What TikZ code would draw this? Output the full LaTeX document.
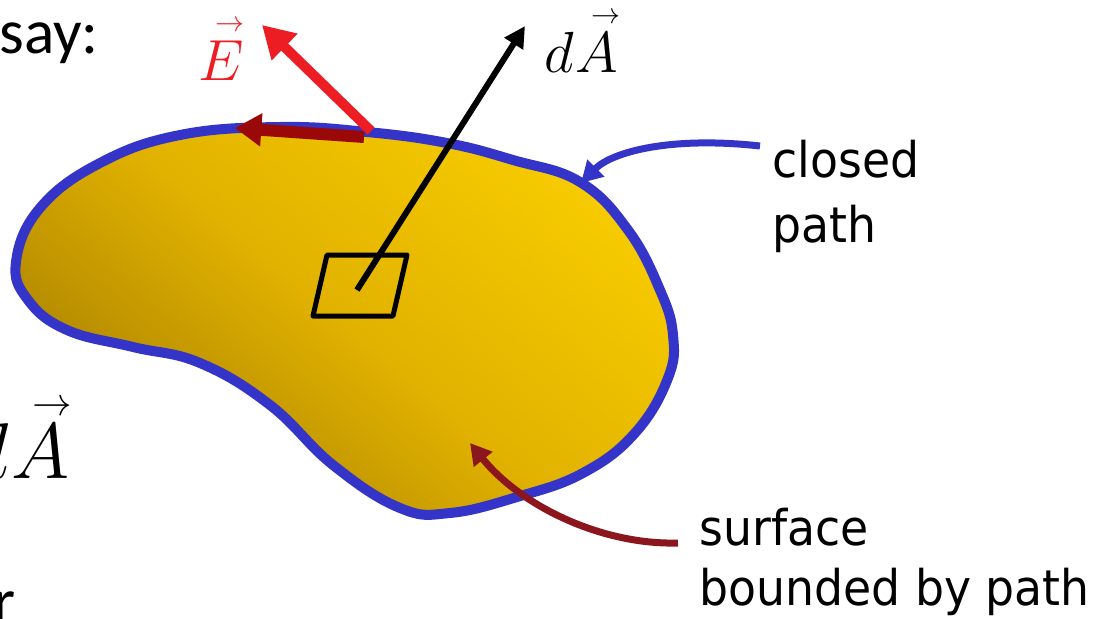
\RequirePackage{fix-cm}
\documentclass[tikz,border=0pt]{standalone}
\usepackage{amsmath}
\usepackage{fontspec}
\newfontfamily\lblfont[FakeStretch=0.93]{DejaVu Sans}
\newfontfamily\slidefont{Carlito}
\usetikzlibrary{arrows.meta}
\newcommand\arrvec[1]{\overset{\scriptscriptstyle\kern0.3em\rightarrow}{#1}}
\definecolor{pathblue}{RGB}{52,52,200}
\definecolor{fieldred}{RGB}{236,30,36}
\definecolor{tanred}{RGB}{155,8,8}
\definecolor{surfred}{RGB}{140,22,30}
\definecolor{yhi}{RGB}{247,203,0}
\definecolor{ymid}{RGB}{225,178,0}
\definecolor{ylo}{RGB}{168,128,0}
\begin{document}
\begin{tikzpicture}[x=0.02cm,y=-0.02cm,
  lbl/.style={font=\lblfont\fontsize{28}{34}\selectfont, inner sep=0pt, anchor=base west},
  slide/.style={font=\slidefont\fontsize{36}{43}\selectfont, inner sep=0pt},
  mathlbl/.style={font=\fontsize{33}{40}\selectfont, inner sep=0pt, anchor=base west},
  blob/.style={draw=pathblue, line width=0.2cm, top color=yhi, bottom color=ylo, middle color=ymid, shading angle=-40},
  vecarrow/.style={line width=0.12cm, -{Triangle[length=12pt,width=12pt]}},
  efield/.style={fieldred, line width=0.2cm, -{Triangle[length=18pt,width=20pt]}},
  etang/.style={tanred, line width=0.24cm, -{Triangle[length=15pt,width=18pt]}},
  callblue/.style={pathblue, line width=0.14cm, -{Triangle[length=12pt,width=13pt]}},
  callred/.style={surfred, line width=0.14cm, -{Triangle[length=12pt,width=13pt]}},
  patch/.style={line width=0.1cm, line join=round}
]
\useasboundingbox (0,0) rectangle (1117,619);
\clip (0,0) rectangle (1117,619);

% surface bounded by the closed path
\draw[blob] plot[smooth cycle, tension=0.7] coordinates {
  (16,262) (40,208) (100,163) (180,135) (280,127) (367,132) (447,143)
  (513,160) (580,182) (628,230) (660,290) (673,335) (668,378) (635,433)
  (583,473) (517,497) (450,513) (400,508) (333,465) (270,405) (200,363)
  (133,347) (67,330) (28,300)};

% area element
\draw[patch] (327,255) -- (407,255) -- (393,316) -- (313,316) -- cycle;

% coordinates of connector ends
\coordinate (dAtail) at (357,290);
\coordinate (dAtip) at (525,26);
\coordinate (Ptail) at (364,137);
\coordinate (Ptip) at (235,128);
\coordinate (Etail) at (371,131);
\coordinate (Etip) at (262,25);
\coordinate (Ctail) at (760,146);
\coordinate (Ctip) at (581,183);
\coordinate (Stail) at (678,543);
\coordinate (Stip) at (470,443);

% vectors
\draw[vecarrow] (dAtail) -- (dAtip);
\draw[etang] (Ptail) -- (Ptip);
\draw[efield] (Etail) -- (Etip);

% callouts
\draw[callblue] (Ctail) .. controls (670,136) and (612,152) .. (Ctip);
\draw[callred] (Stail) .. controls (600,545) and (520,505) .. (Stip);

% labels
\node[mathlbl, text=fieldred] (E) at (198,80) {$\arrvec{E}$};
\node[mathlbl] (dA) at (544,72) {$d\arrvec{A}$};
\node[lbl] (closed1) at (772,177) {closed};
\node[lbl] (closed2) at (772,242) {path};
\node[lbl] (surf1) at (699,545) {surface};
\node[lbl] (surf2) at (699,605) {bounded by path};

% cut-off slide text
\node[slide, anchor=base west] (say) at (-1,53) {say:};
\node[font=\fontsize{45}{54}\selectfont, inner sep=0pt, anchor=base east] (dAleft) at (72,478) {$d\arrvec{A}$};
\node[slide, anchor=base east] (rr) at (16,622) {r};
\end{tikzpicture}
\end{document}
